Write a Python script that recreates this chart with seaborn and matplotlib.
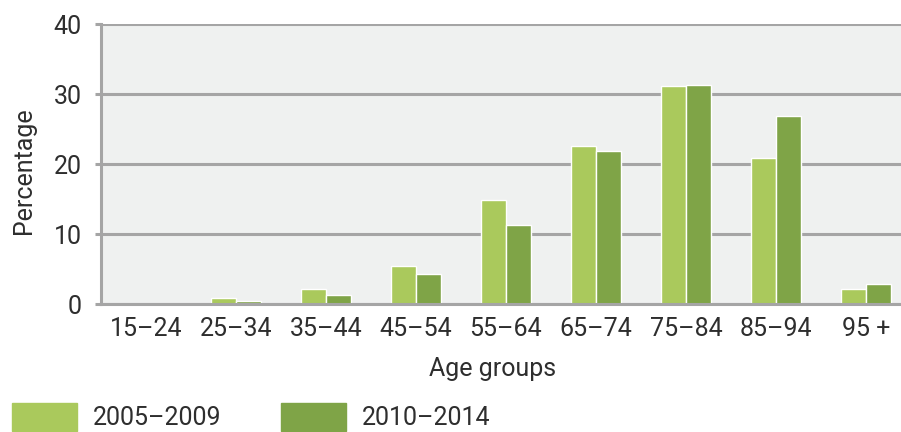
import pandas as pd
import matplotlib.pyplot as plt
import seaborn as sns

# --- Data ---
age_groups = ['15–24', '25–34', '35–44', '45–54', '55–64', '65–74', '75–84', '85–94', '95 +']
pct_2005_2009 = [0.0, 0.8, 2.2, 5.5, 14.9, 22.6, 31.1, 20.9, 2.2]
pct_2010_2014 = [0.0, 0.5, 1.3, 4.3, 11.3, 21.9, 31.3, 26.8, 2.9]
periods = ['2005–2009', '2010–2014']
colors = ['#aac95c', '#7fa447']

df = pd.DataFrame({
    'age': age_groups * 2,
    'pct': pct_2005_2009 + pct_2010_2014,
    'period': [periods[0]] * len(age_groups) + [periods[1]] * len(age_groups),
})

sns.set_theme(style='white')
plt.rcParams['font.family'] = ['Roboto', 'DejaVu Sans']
text_color = '#2e2e2e'
grid_color = '#a5a5a5'
fs = 18

fig = plt.figure(figsize=(9.01, 4.32), dpi=100)
ax = fig.add_axes([101 / 901, 1 - 304 / 432, 810 / 901, 280 / 432])
ax.set_facecolor('#eff1f0')

sns.barplot(data=df, x='age', y='pct', hue='period', palette=colors,
            width=0.556, gap=0, saturation=1, ax=ax, legend=False)

ax.set_xlim(-0.5, 8.5)
ax.set_ylim(0, 40)
ax.set_yticks([0, 10, 20, 30, 40])
ax.yaxis.grid(True, color=grid_color, linewidth=2.2)
ax.set_axisbelow(True)
ax.set_xlabel('')
ax.set_ylabel('')

for side in ['top', 'right']:
    ax.spines[side].set_visible(False)
for side in ['left', 'bottom']:
    ax.spines[side].set_color(grid_color)
    ax.spines[side].set_linewidth(2.2)

ax.tick_params(axis='y', length=4, width=2.2, color=grid_color, pad=10,
               labelsize=fs, labelcolor=text_color, left=True)
ax.tick_params(axis='x', length=0, pad=9, labelsize=fs, labelcolor=text_color)

fig.text(24 / 901, 1 - 171 / 432, 'Percentage', rotation=90, ha='center', va='center',
         fontsize=fs, color=text_color)
fig.text(493 / 901, 1 - 369 / 432, 'Age groups', ha='center', va='center',
         fontsize=fs, color=text_color)

# legend sits at the very bottom edge, as in the reference
handles = [plt.Rectangle((0, 0), 1, 1, color=c) for c in colors]
leg = fig.legend(handles, periods, loc='center left',
                 bbox_to_anchor=(12 / 901, 1 - 417 / 432), ncol=2, frameon=False,
                 fontsize=fs, handlelength=2.6, handleheight=1.3,
                 handletextpad=0.64, columnspacing=2.36, borderpad=0, borderaxespad=0)
for t in leg.get_texts():
    t.set_color(text_color)

fig.savefig('out.png', dpi=100)
